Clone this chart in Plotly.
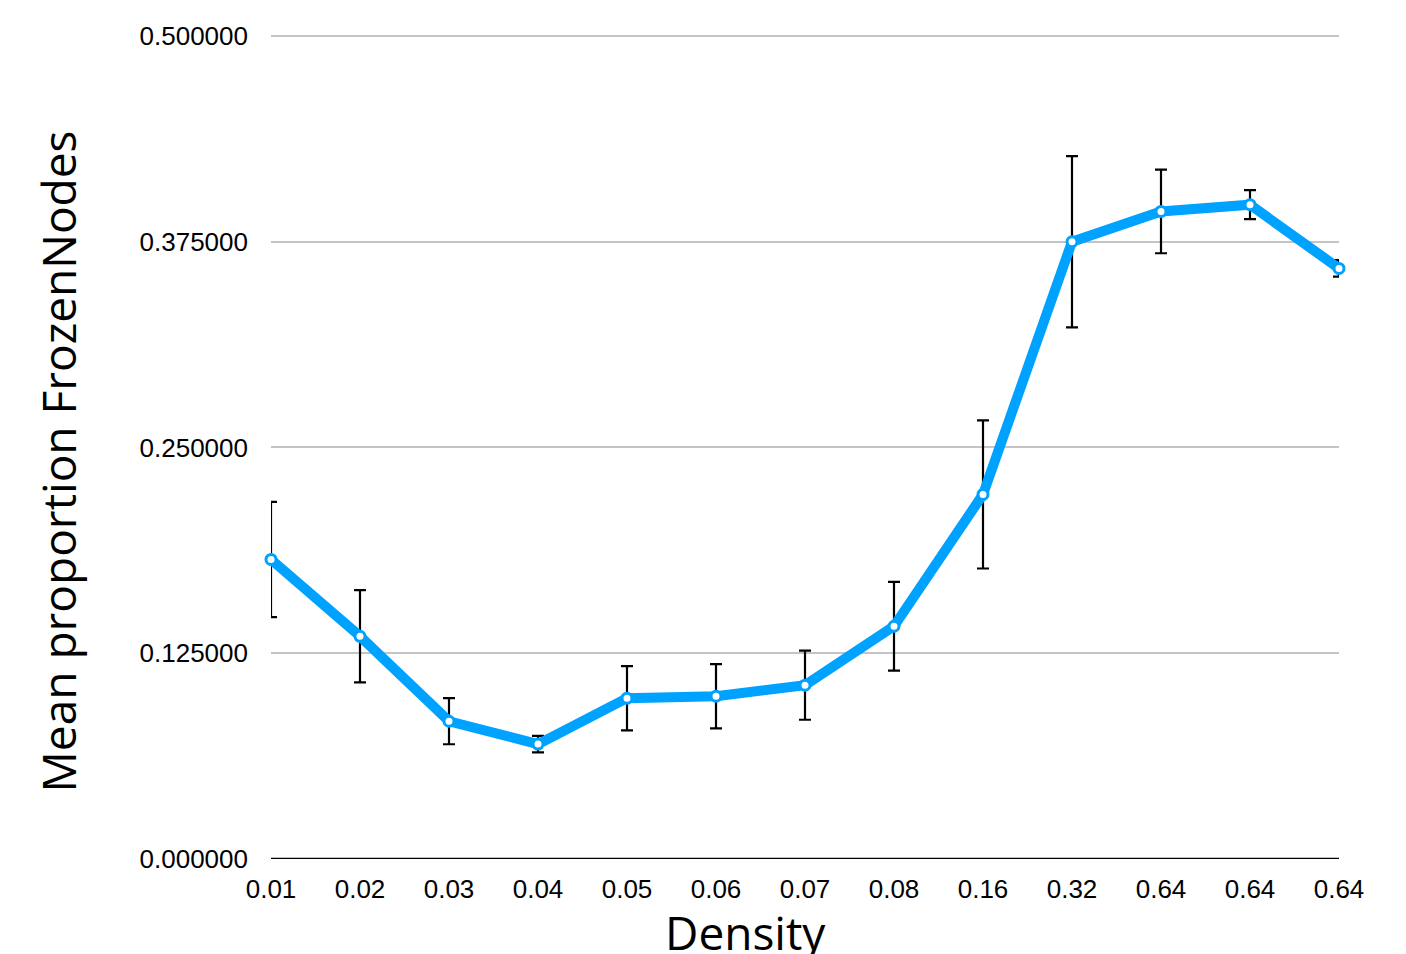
import plotly.graph_objects as go

densities = ["0.01", "0.02", "0.03", "0.04", "0.05", "0.06", "0.07",
             "0.08", "0.16", "0.32", "0.64", "0.64", "0.64"]
mean_frozen = [0.182, 0.1353, 0.0837, 0.0698, 0.0977, 0.0989, 0.1056,
               0.1414, 0.2215, 0.375, 0.3934, 0.3975, 0.3588]
err_frozen = [0.035, 0.028, 0.014, 0.005, 0.0195, 0.0195, 0.021,
              0.027, 0.045, 0.052, 0.0254, 0.0088, 0.005]
y_ticks = [0.0, 0.125, 0.25, 0.375, 0.5]

positions = list(range(len(densities)))

W, H = 1398, 946
L, T = 263, 27
PW, PH = 1068, 824

fig = go.Figure()
fig.add_trace(go.Scatter(
    x=positions, y=mean_frozen,
    mode="lines+markers",
    line=dict(color="#00A2FF", width=10),
    marker=dict(symbol="circle", size=10, color="white",
                line=dict(color="#00A2FF", width=3)),
    error_y=dict(type="data", array=err_frozen, visible=True,
                 color="black", thickness=2.2, width=6),
    cliponaxis=False,
    showlegend=False,
))

fig.update_layout(
    width=W, height=H,
    margin=dict(l=L, r=W - L - PW, t=T, b=H - T - PH, pad=0),
    paper_bgcolor="white", plot_bgcolor="white",
    font=dict(family="Liberation Sans, Arial", size=26, color="black"),
    xaxis=dict(
        tickmode="array", tickvals=positions, ticktext=densities,
        range=[0, len(densities) - 1],
        showgrid=False, zeroline=False,
        showline=False, ticks="", ticklabelstandoff=12,
        tickfont=dict(size=26),
    ),
    yaxis=dict(
        range=[0, 0.5006], tickmode="array", tickvals=y_ticks,
        tickformat=".6f",
        showgrid=True, gridcolor="#C4C4C4", gridwidth=2,
        zeroline=False, showline=False, ticks="",
        ticklabelstandoff=22,
        tickfont=dict(size=26),
    ),
    shapes=[
        dict(type="line", xref="paper", yref="y", x0=0, x1=1, y0=y_ticks[-1], y1=y_ticks[-1],
             line=dict(color="#C4C4C4", width=2), layer="below"),
        dict(type="line", xref="paper", yref="y", x0=0, x1=1, y0=0, y1=0,
             line=dict(color="black", width=2.5), layer="above"),
    ],
    annotations=[
        dict(text="Density", xref="paper", yref="paper",
             x=(745 - 271) / PW, y=-(932 - 859) / PH, xanchor="center", yanchor="middle",
             showarrow=False, font=dict(family="Open Sans", size=46, color="black")),
        dict(text="Mean proportion FrozenNodes", xref="paper", yref="paper",
             x=(57 - 271) / PW, y=(859 - 461.5) / PH, xanchor="center", yanchor="middle",
             textangle=-90, showarrow=False,
             font=dict(family="Open Sans", size=46, color="black")),
    ],
)

fig.write_html("out.html")
